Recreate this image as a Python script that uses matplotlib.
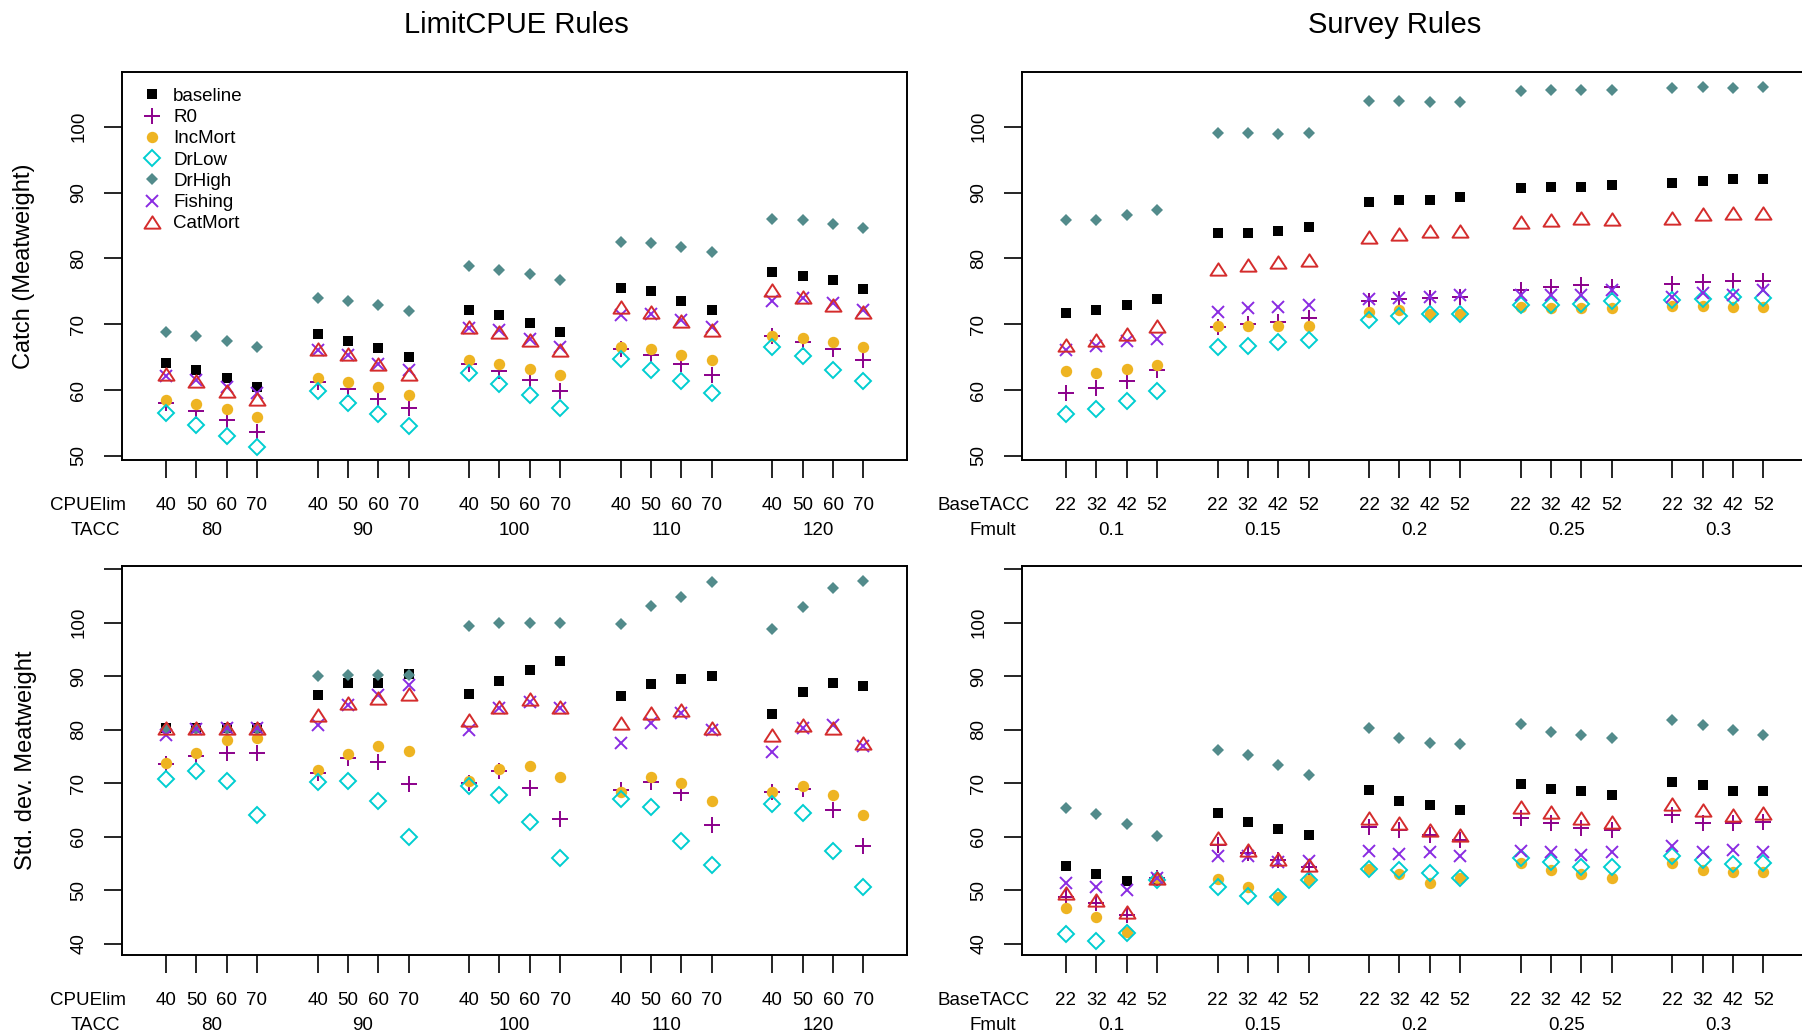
import matplotlib
matplotlib.use("Agg")
import matplotlib.pyplot as plt
from matplotlib.path import Path
import numpy as np

plt.rcParams["font.family"] = ["Liberation Sans", "DejaVu Sans"]

series = ["baseline", "R0", "IncMort", "DrLow", "DrHigh", "Fishing", "CatMort"]

cpue_lim = [40, 50, 60, 70]
tacc = [80, 90, 100, 110, 120]
base_tacc = [22, 32, 42, 52]
fmult = ["0.1", "0.15", "0.2", "0.25", "0.3"]

# catch by LimitCPUE rule (TACC groups x CPUElim)
limit_catch = {
    "baseline": [64.1, 63.0, 61.9, 60.5, 68.5, 67.4, 66.4, 65.1, 72.1, 71.4, 70.2, 68.8,
                 75.5, 75.0, 73.5, 72.2, 78.0, 77.4, 76.7, 75.3],
    "R0":       [58.0, 56.8, 55.4, 53.6, 61.3, 60.1, 58.7, 57.3, 63.9, 62.9, 61.5, 59.8,
                 66.3, 65.4, 64.0, 62.3, 68.2, 67.3, 66.2, 64.5],
    "IncMort":  [58.5, 57.9, 57.1, 55.9, 61.9, 61.3, 60.4, 59.2, 64.6, 63.9, 63.2, 62.3,
                 66.5, 66.2, 65.4, 64.5, 68.2, 67.9, 67.3, 66.6],
    "DrLow":    [56.5, 54.7, 53.1, 51.4, 59.8, 58.1, 56.3, 54.5, 62.6, 60.9, 59.2, 57.3,
                 64.7, 63.1, 61.4, 59.6, 66.5, 65.2, 63.1, 61.4],
    "DrHigh":   [68.8, 68.2, 67.5, 66.6, 74.0, 73.6, 72.9, 72.0, 78.8, 78.3, 77.7, 76.7,
                 82.5, 82.4, 81.8, 80.9, 86.0, 85.9, 85.3, 84.6],
    "Fishing":  [62.2, 61.6, 60.4, 59.5, 66.1, 65.3, 64.0, 63.0, 69.4, 69.1, 67.8, 66.5,
                 71.4, 71.6, 70.6, 69.6, 73.5, 74.0, 73.2, 72.1],
    "CatMort":  [62.4, 61.4, 59.9, 58.7, 66.3, 65.5, 63.9, 62.4, 69.6, 68.8, 67.6, 66.1,
                 72.6, 71.9, 70.5, 69.2, 75.2, 74.2, 73.0, 71.8],
}

# catch by survey rule (Fmult groups x BaseTACC)
survey_catch = {
    "baseline": [71.7, 72.2, 73.0, 73.8, 83.8, 83.8, 84.1, 84.7, 88.6, 88.8, 88.8, 89.4,
                 90.7, 90.8, 90.8, 91.1, 91.4, 91.7, 92.0, 92.0],
    "R0":       [59.5, 60.3, 61.4, 63.1, 69.6, 70.1, 70.4, 71.0, 73.5, 73.8, 74.0, 74.2,
                 75.2, 75.7, 75.9, 75.7, 76.1, 76.4, 76.6, 76.6],
    "IncMort":  [62.9, 62.6, 63.2, 63.8, 69.8, 69.7, 69.7, 69.7, 71.9, 72.1, 71.5, 71.5,
                 72.6, 72.4, 72.4, 72.4, 72.7, 72.7, 72.6, 72.6],
    "DrLow":    [56.3, 57.1, 58.3, 59.8, 66.5, 66.7, 67.3, 67.6, 70.7, 71.2, 71.5, 71.5,
                 72.9, 72.9, 73.1, 73.5, 73.7, 73.9, 74.1, 74.0],
    "DrHigh":   [85.8, 85.9, 86.6, 87.4, 99.0, 99.1, 98.9, 99.1, 103.9, 103.9, 103.7, 103.8,
                 105.4, 105.6, 105.5, 105.6, 105.9, 106.0, 105.9, 106.1],
    "Fishing":  [66.1, 66.7, 67.4, 67.8, 71.9, 72.4, 72.6, 72.9, 73.8, 74.0, 74.2, 74.5,
                 74.4, 74.4, 74.5, 75.2, 74.2, 74.7, 74.4, 75.2],
    "CatMort":  [66.9, 67.6, 68.5, 69.8, 78.4, 79.0, 79.4, 79.7, 83.2, 83.7, 84.1, 84.1,
                 85.5, 85.8, 86.1, 86.0, 86.2, 86.7, 86.9, 86.9],
}

# std. dev. of catch, LimitCPUE rule
limit_sd = {
    "baseline": [80.4, 80.4, 80.4, 80.4, 86.5, 88.7, 88.8, 90.4, 86.7, 89.1, 91.2, 92.9,
                 86.2, 88.5, 89.5, 90.0, 82.9, 87.1, 88.8, 88.2],
    "R0":       [73.6, 75.1, 75.6, 75.6, 71.9, 74.8, 73.9, 69.8, 70.1, 72.3, 69.1, 63.3,
                 68.7, 70.2, 68.1, 62.2, 68.3, 68.9, 65.0, 58.2],
    "IncMort":  [73.7, 75.7, 78.1, 78.4, 72.5, 75.4, 77.0, 76.0, 70.5, 72.6, 73.3, 71.2,
                 68.4, 71.2, 70.1, 66.7, 68.3, 69.5, 67.8, 64.1],
    "DrLow":    [70.8, 72.2, 70.4, 64.1, 70.3, 70.4, 66.6, 60.0, 69.5, 67.9, 62.7, 56.1,
                 67.1, 65.6, 59.3, 54.7, 66.1, 64.4, 57.4, 50.7],
    "DrHigh":   [80.1, 80.1, 80.1, 80.1, 90.1, 90.2, 90.2, 90.3, 99.4, 100.0, 100.0, 100.0,
                 99.7, 103.1, 104.8, 107.6, 98.8, 102.9, 106.4, 107.8],
    "Fishing":  [79.0, 80.1, 80.3, 80.3, 80.8, 84.6, 86.5, 88.4, 80.0, 84.1, 85.2, 84.0,
                 77.5, 81.3, 83.1, 80.0, 75.9, 80.4, 80.9, 77.0],
    "CatMort":  [80.3, 80.3, 80.3, 80.3, 82.8, 84.9, 86.0, 86.6, 81.8, 84.3, 85.7, 84.2,
                 81.2, 83.2, 83.6, 80.4, 79.0, 80.8, 80.4, 77.6],
}

# std. dev. of catch, survey rule
survey_sd = {
    "baseline": [54.6, 53.1, 51.8, 52.2, 64.5, 62.8, 61.5, 60.3, 68.7, 66.7, 65.9, 65.0,
                 69.9, 68.9, 68.6, 67.8, 70.2, 69.7, 68.6, 68.6],
    "R0":       [48.8, 47.6, 45.5, 52.3, 58.5, 56.9, 55.7, 54.4, 61.9, 61.3, 60.3, 59.4,
                 63.5, 62.5, 61.7, 61.3, 64.0, 62.5, 62.5, 62.7],
    "IncMort":  [46.8, 45.1, 42.3, 52.3, 52.1, 50.6, 48.7, 51.9, 54.0, 53.1, 51.3, 52.4,
                 55.1, 53.8, 53.0, 52.4, 55.2, 53.8, 53.5, 53.5],
    "DrLow":    [41.9, 40.6, 42.1, 51.9, 50.6, 49.0, 48.7, 51.9, 54.0, 53.8, 53.2, 52.4,
                 56.1, 55.4, 54.4, 54.3, 56.4, 55.7, 54.9, 55.1],
    "DrHigh":   [65.3, 64.2, 62.4, 60.2, 76.2, 75.3, 73.5, 71.5, 80.4, 78.4, 77.6, 77.3,
                 81.1, 79.5, 79.0, 78.5, 81.8, 80.8, 80.0, 79.1],
    "Fishing":  [51.3, 50.6, 50.0, 52.4, 56.5, 56.5, 55.4, 55.5, 57.4, 56.8, 57.1, 56.4,
                 57.4, 57.1, 56.7, 57.1, 58.2, 57.2, 57.5, 57.1],
    "CatMort":  [49.6, 48.2, 46.0, 52.4, 59.7, 57.5, 55.9, 54.7, 63.5, 62.5, 61.3, 60.3,
                 65.6, 64.6, 63.6, 62.7, 66.1, 65.0, 64.0, 64.4],
}

# groups of four with a one-slot gap between groups
xpos = [g * 5 + k + 1 for g in range(5) for k in range(4)]

# open triangle like R's pch=2
tri = Path([(0, 0.385), (-0.5, -0.385), (0.5, -0.385), (0, 0.385)],
           [Path.MOVETO, Path.LINETO, Path.LINETO, Path.CLOSEPOLY])

styles = {
    "baseline": dict(marker="s", markersize=7.6, markerfacecolor="black",
                     markeredgecolor="black", markeredgewidth=0),
    "R0": dict(marker="+", markersize=11.5, markeredgecolor="#8B008B", markeredgewidth=1.4),
    "IncMort": dict(marker="o", markersize=8.2, markerfacecolor="#EEB422",
                    markeredgecolor="#EEB422", markeredgewidth=0),
    "DrLow": dict(marker="D", markersize=8.0, markerfacecolor="none",
                  markeredgecolor="#00CED1", markeredgewidth=1.4),
    "DrHigh": dict(marker="D", markersize=6.2, markerfacecolor="#528B8B",
                   markeredgecolor="#528B8B", markeredgewidth=0),
    "Fishing": dict(marker="x", markersize=8.8, markeredgecolor="#8A2BE2", markeredgewidth=1.4),
    "CatMort": dict(marker=tri, markersize=11.5, markerfacecolor="none",
                    markeredgecolor="#D42C2C", markeredgewidth=1.4),
}

FS = 13.5
W, H = 1802, 1035


def panel(fig, left_px, top_px, bottom_px, data, ylim, yticks):
    width_px = 907 - 121.7
    ax = fig.add_axes([left_px / W, 1 - bottom_px / H, width_px / W, (bottom_px - top_px) / H])
    for name in series:
        ax.plot(xpos, data[name], linestyle="none", label=name, **styles[name])
    ax.set_xlim(-0.46, 25.44)
    ax.set_ylim(*ylim)
    ax.set_xticks(xpos)
    ax.set_xticklabels([])
    ax.set_yticks(yticks)
    ax.set_yticklabels([str(t) if t <= 100 else "" for t in yticks],
                       rotation=90, va="center", fontsize=FS)
    ax.tick_params(direction="out", length=13.2, width=1.2, pad=11.5)
    for s in ax.spines.values():
        s.set_linewidth(1.4)
    return ax


def x_labels(ax, inner, outer, inner_name, outer_name, dx_inner, dx_outer):
    for i, g in enumerate(outer):
        grp = xpos[i * 4:i * 4 + 4]
        for xv, v in zip(grp, inner):
            ax.annotate(str(v), xy=(xv, 0), xycoords=("data", "axes fraction"),
                        xytext=(0, -33), textcoords="offset points",
                        ha="center", va="center", fontsize=FS, annotation_clip=False)
        ax.annotate(str(g), xy=(np.mean(grp), 0), xycoords=("data", "axes fraction"),
                    xytext=(0, -51), textcoords="offset points",
                    ha="center", va="center", fontsize=FS, annotation_clip=False)
    ax.annotate(inner_name, xy=(0, 0), xycoords="axes fraction", xytext=(dx_inner, -33),
                textcoords="offset points", ha="center", va="center", fontsize=FS)
    ax.annotate(outer_name, xy=(0, 0), xycoords="axes fraction", xytext=(dx_outer, -51),
                textcoords="offset points", ha="center", va="center", fontsize=FS)


fig = plt.figure(figsize=(W / 100, H / 100), dpi=100)

top_ylim = (49.39, 108.35)
bot_ylim = (37.95, 110.55)
top_ticks = [50, 60, 70, 80, 90, 100]
bot_ticks = [40, 50, 60, 70, 80, 90, 100, 110]

ax_tl = panel(fig, 121.7, 71.7, 460, limit_catch, top_ylim, top_ticks)
ax_tr = panel(fig, 1021.7, 71.7, 460, survey_catch, top_ylim, top_ticks)
ax_bl = panel(fig, 121.7, 566, 955, limit_sd, bot_ylim, bot_ticks)
ax_br = panel(fig, 1021.7, 566, 955, survey_sd, bot_ylim, bot_ticks)

for ax in (ax_tl, ax_bl):
    x_labels(ax, cpue_lim, tacc, "CPUElim", "TACC", -24.3, -18.9)
for ax in (ax_tr, ax_br):
    x_labels(ax, base_tacc, fmult, "BaseTACC", "Fmult", -27.4, -20.7)

ax_tl.legend(loc="upper left", bbox_to_anchor=(0.0262, 0.9585), frameon=False,
             borderpad=0, borderaxespad=0, handlelength=1.0, handletextpad=0.65,
             labelspacing=0.22, numpoints=1, fontsize=FS)

fig.text(516 / W, 1 - 25 / H, "LimitCPUE Rules", ha="center", va="center", fontsize=21)
fig.text(1395 / W, 1 - 25 / H, "Survey Rules", ha="center", va="center", fontsize=21)
fig.text(24 / W, 1 - 265.9 / H, "Catch (Meatweight)", rotation=90,
         ha="center", va="center", fontsize=17)
fig.text(26 / W, 1 - 760.5 / H, "Std. dev. Meatweight", rotation=90,
         ha="center", va="center", fontsize=17)

fig.savefig("out.png", dpi=100)
